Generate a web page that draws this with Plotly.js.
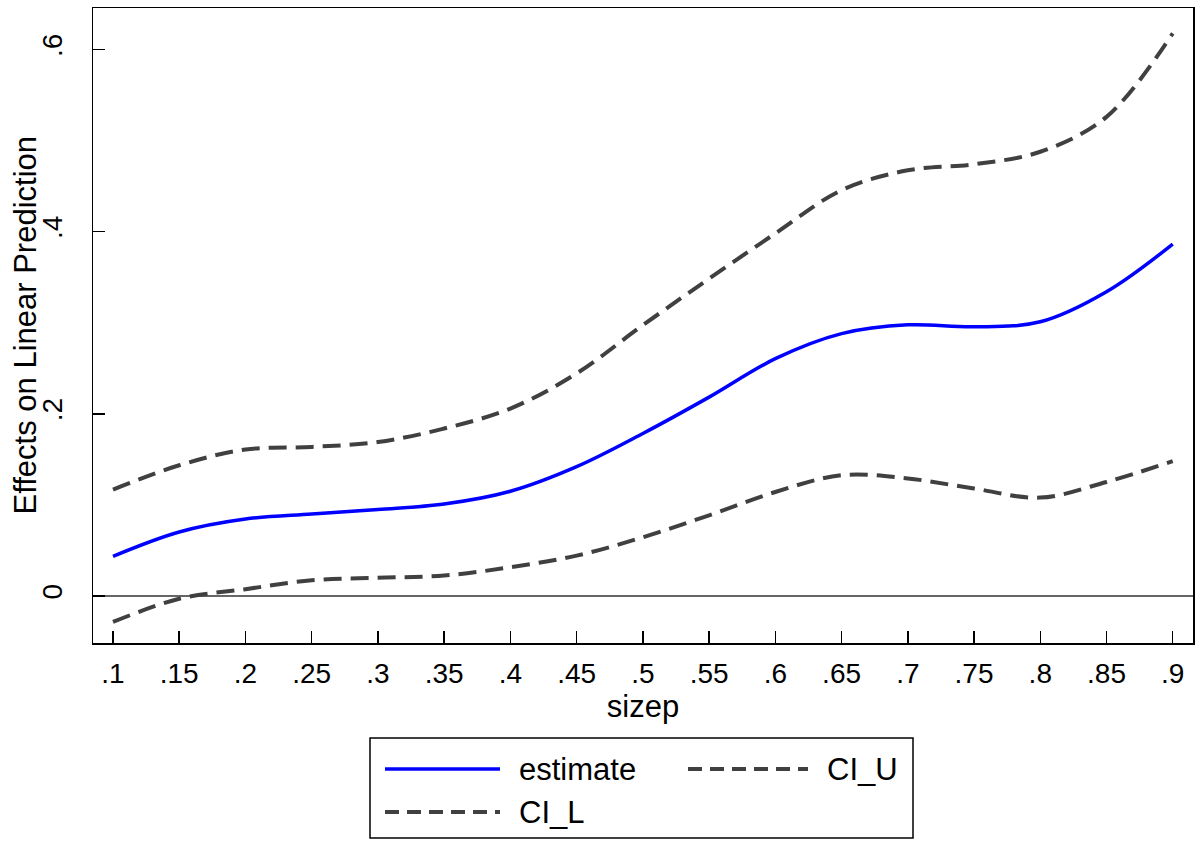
<!DOCTYPE html>
<html>
<head>
<meta charset="utf-8">
<script src="https://cdn.plot.ly/plotly-3.0.1.min.js"></script>
<style>html,body{margin:0;padding:0;background:#fff;}#chart{width:1195px;height:842px;}</style>
</head>
<body>
<div id="chart"></div>
<script>
// ---- data ----
const sizep = [0.10, 0.15, 0.20, 0.25, 0.30, 0.35, 0.40, 0.45, 0.50, 0.55, 0.60, 0.65, 0.70, 0.75, 0.80, 0.85, 0.90];
const estimate = [0.0436, 0.0703, 0.0845, 0.0900, 0.0950, 0.1010, 0.1150, 0.1420, 0.1784, 0.2183, 0.2605, 0.2880, 0.2977, 0.2955, 0.3010, 0.3340, 0.3863];
const ciU = [0.1168, 0.1435, 0.1608, 0.1637, 0.1690, 0.1839, 0.2058, 0.2443, 0.2973, 0.3484, 0.3980, 0.4455, 0.4673, 0.4740, 0.4877, 0.5260, 0.6177];
const ciL = [-0.0285, -0.0030, 0.0075, 0.0173, 0.0200, 0.0225, 0.0316, 0.0443, 0.0645, 0.0886, 0.1142, 0.1326, 0.1290, 0.1180, 0.1080, 0.1252, 0.1480];
const xTickVals = [0.10, 0.15, 0.20, 0.25, 0.30, 0.35, 0.40, 0.45, 0.50, 0.55, 0.60, 0.65, 0.70, 0.75, 0.80, 0.85, 0.90];
const xTickText = ['.1', '.15', '.2', '.25', '.3', '.35', '.4', '.45', '.5', '.55', '.6', '.65', '.7', '.75', '.8', '.85', '.9'];
const yTickVals = [0, 0.2, 0.4, 0.6];
const yTickText = ['0', '.2', '.4', '.6'];
const seriesNames = ['estimate', 'CI_L', 'CI_U'];
const xTitle = 'sizep';
const yTitle = 'Effects on Linear Prediction';

// ---- style ----
const FONT = 'Liberation Sans, Arial, sans-serif';
const BLUE = '#0000ff';
const GREY = '#404040';
const DASH = '18px,9px';

const traces = [
  {x: sizep, y: estimate, name: seriesNames[0], mode: 'lines', line: {color: BLUE, width: 3.5, shape: 'spline', smoothing: 1}},
  {x: sizep, y: ciL, name: seriesNames[1], mode: 'lines', line: {color: GREY, width: 4, dash: DASH, shape: 'spline', smoothing: 1}},
  {x: sizep, y: ciU, name: seriesNames[2], mode: 'lines', line: {color: GREY, width: 4, dash: DASH, shape: 'spline', smoothing: 1}}
];

// plot area in pixels: left 93, right 1193, top 8, bottom 643
const L = 93, R = 1193, T = 8, B = 643;
const px = v => (v - L) / (R - L);
const py = v => (B - v) / (B - T);

const legendRows = [769, 812];
const shapes = [
  {type: 'rect', xref: 'paper', yref: 'paper', x0: px(370), x1: px(913), y0: py(838), y1: py(738), line: {color: '#000', width: 1.5}, fillcolor: 'rgba(0,0,0,0)'},
  {type: 'line', xref: 'paper', yref: 'paper', x0: px(385), x1: px(500), y0: py(legendRows[0]), y1: py(legendRows[0]), line: {color: BLUE, width: 3.5}},
  {type: 'line', xref: 'paper', yref: 'paper', x0: px(688), x1: px(808), y0: py(legendRows[0]), y1: py(legendRows[0]), line: {color: GREY, width: 4, dash: '14px,8px'}},
  {type: 'line', xref: 'paper', yref: 'paper', x0: px(385), x1: px(500), y0: py(legendRows[1]), y1: py(legendRows[1]), line: {color: GREY, width: 4, dash: '14px,8px'}}
];
const annotations = [
  {text: seriesNames[0], xref: 'paper', yref: 'paper', x: px(517), y: py(legendRows[0]), xanchor: 'left', yanchor: 'middle', showarrow: false, font: {family: FONT, size: 31, color: '#000'}},
  {text: seriesNames[2], xref: 'paper', yref: 'paper', x: px(825), y: py(legendRows[0]), xanchor: 'left', yanchor: 'middle', showarrow: false, font: {family: FONT, size: 31, color: '#000'}},
  {text: seriesNames[1], xref: 'paper', yref: 'paper', x: px(517), y: py(legendRows[1]), xanchor: 'left', yanchor: 'middle', showarrow: false, font: {family: FONT, size: 31, color: '#000'}},
  {text: yTitle, xref: 'paper', yref: 'paper', x: px(25), y: 0.5, xanchor: 'center', yanchor: 'middle', textangle: -90, showarrow: false, font: {family: FONT, size: 31, color: '#000'}}
];

const layout = {
  width: 1195, height: 842,
  margin: {l: L, r: 1195 - R, t: T, b: 842 - B, pad: 0},
  paper_bgcolor: '#fff', plot_bgcolor: '#fff',
  showlegend: false,
  font: {family: FONT, color: '#000'},
  xaxis: {
    range: [0.0849, 0.9153], tickmode: 'array', tickvals: xTickVals, ticktext: xTickText,
    ticks: 'inside', ticklen: 12, tickwidth: 1.5, tickcolor: '#000',
    showline: true, linecolor: '#000', linewidth: 1.5, mirror: true,
    showgrid: false, zeroline: false,
    tickfont: {family: FONT, size: 28, color: '#000'}, ticklabelstandoff: 5,
    title: {text: xTitle, font: {family: FONT, size: 31, color: '#000'}, standoff: 2}
  },
  yaxis: {
    range: [-0.0516, 0.6455], tickmode: 'array', tickvals: yTickVals, ticktext: yTickText,
    ticks: 'inside', ticklen: 12, tickwidth: 1.5, tickcolor: '#000',
    showline: true, linecolor: '#000', linewidth: 1.5, mirror: true,
    showgrid: false, zeroline: true, zerolinecolor: '#666', zerolinewidth: 1.5,
    tickangle: -90, tickfont: {family: FONT, size: 28, color: '#000'}, ticklabelstandoff: 18
  },
  shapes: shapes,
  annotations: annotations
};

Plotly.newPlot('chart', traces, layout, {displayModeBar: false, staticPlot: true});
</script>
</body>
</html>
